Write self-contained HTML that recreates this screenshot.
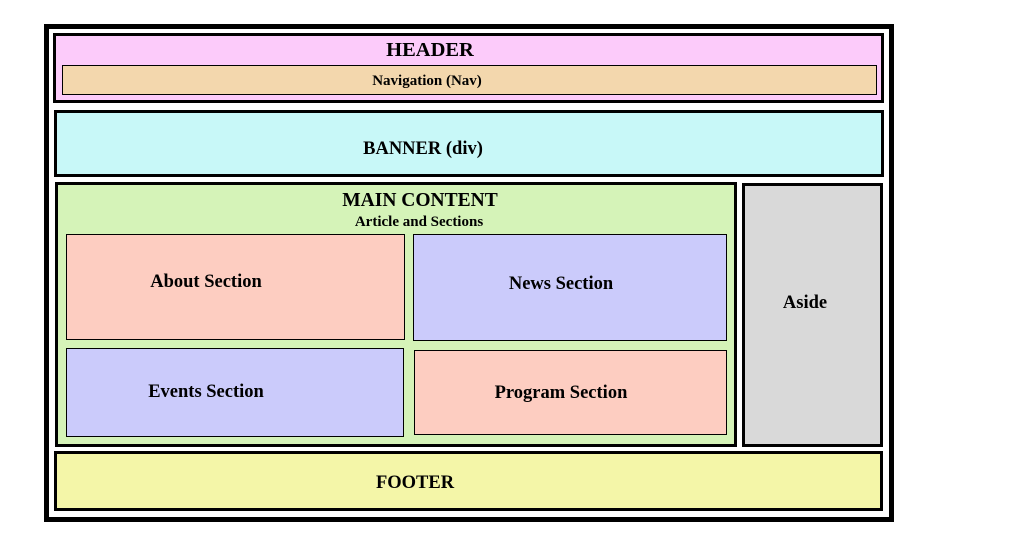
<!DOCTYPE html>
<html><head><style>
body{margin:0;width:1029px;height:544px;background:#fff;position:relative;font-family:"Liberation Serif",serif;font-weight:bold;color:#000}
div{position:absolute;box-sizing:border-box}
.t{position:absolute;white-space:nowrap;transform:translateX(-50%)}
</style></head><body>
<div style="left:44px;top:24px;width:850px;height:498px;border:5px solid #000"></div>
<div style="left:53px;top:33px;width:831px;height:70px;border:3px solid #000;background:#fccbfa"></div>
<span class="t" style="left:430px;top:39px;font-size:20.5px">HEADER</span>
<div style="left:62px;top:65px;width:815px;height:30px;border:1px solid #000;background:#f3d7ad"></div>
<span class="t" style="left:427px;top:73px;font-size:15px">Navigation (Nav)</span>
<div style="left:54px;top:110px;width:830px;height:67px;border:3px solid #000;background:#c8f8f8"></div>
<span class="t" style="left:423px;top:139px;font-size:18.5px">BANNER (div)</span>
<div style="left:55px;top:182px;width:682px;height:265px;border:3px solid #000;background:#d5f3b8"></div>
<span class="t" style="left:420px;top:190px;font-size:19.5px">MAIN CONTENT</span>
<span class="t" style="left:419px;top:214px;font-size:15px">Article and Sections</span>
<div style="left:66px;top:234px;width:339px;height:106px;border:1px solid #000;background:#fdcdc1"></div>
<span class="t" style="left:206px;top:272px;font-size:18.5px">About Section</span>
<div style="left:413px;top:234px;width:314px;height:107px;border:1px solid #000;background:#cbcbfb"></div>
<span class="t" style="left:561px;top:274px;font-size:18.5px">News Section</span>
<div style="left:66px;top:348px;width:338px;height:89px;border:1px solid #000;background:#cbcbfb"></div>
<span class="t" style="left:206px;top:382px;font-size:18.5px">Events Section</span>
<div style="left:414px;top:350px;width:313px;height:85px;border:1px solid #000;background:#fdcdc1"></div>
<span class="t" style="left:561px;top:383px;font-size:18.5px">Program Section</span>
<div style="left:742px;top:183px;width:141px;height:264px;border:3px solid #000;background:#d9d9d9"></div>
<span class="t" style="left:805px;top:293px;font-size:18.5px">Aside</span>
<div style="left:54px;top:451px;width:829px;height:60px;border:3px solid #000;background:#f4f6a8"></div>
<span class="t" style="left:415px;top:473px;font-size:18.5px">FOOTER</span>
</body></html>
